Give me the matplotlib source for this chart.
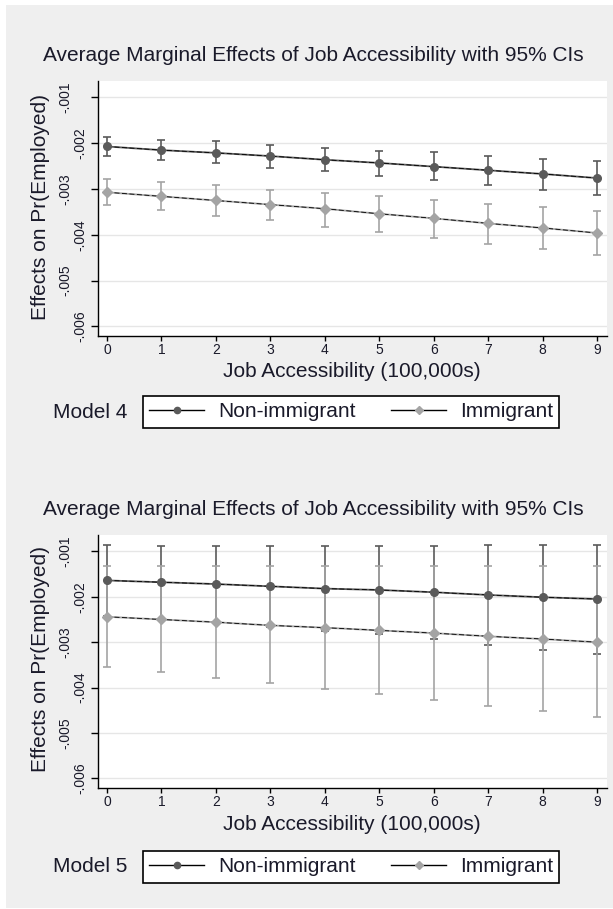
import matplotlib
matplotlib.use('Agg')
import matplotlib.pyplot as plt
from matplotlib.patches import Rectangle
from matplotlib.lines import Line2D

plt.rcParams['font.family'] = ['Liberation Sans', 'DejaVu Sans']

# ---------------- data ----------------
x_vals = [0, 1, 2, 3, 4, 5, 6, 7, 8, 9]
x_tick_labels = ['0', '1', '2', '3', '4', '5', '6', '7', '8', '9']
y_ticks = [-0.006, -0.005, -0.004, -0.003, -0.002, -0.001]
y_tick_labels = ['-.006', '-.005', '-.004', '-.003', '-.002', '-.001']
series_names = ['Non-immigrant', 'Immigrant']
model_names = ['Model 4', 'Model 5']
title_text = 'Average Marginal Effects of Job Accessibility with 95% CIs'
xlabel_text = 'Job Accessibility (100,000s)'
ylabel_text = 'Effects on Pr(Employed)'

# Model 4
nonimm4_mean = [-0.00207, -0.00215, -0.00221, -0.00228, -0.00236, -0.00243, -0.00251, -0.00259, -0.00267, -0.00276]
nonimm4_lo = [-0.00227, -0.00237, -0.00244, -0.00253, -0.00261, -0.00271, -0.00281, -0.00291, -0.00302, -0.00312]
nonimm4_hi = [-0.00187, -0.00193, -0.00196, -0.00203, -0.00210, -0.00217, -0.00220, -0.00227, -0.00234, -0.00239]
imm4_mean = [-0.00307, -0.00316, -0.00325, -0.00334, -0.00343, -0.00354, -0.00364, -0.00375, -0.00385, -0.00396]
imm4_lo = [-0.00335, -0.00346, -0.00358, -0.00368, -0.00382, -0.00393, -0.00407, -0.00420, -0.00430, -0.00443]
imm4_hi = [-0.00277, -0.00284, -0.00291, -0.00301, -0.00308, -0.00315, -0.00325, -0.00332, -0.00339, -0.00349]

# Model 5
nonimm5_mean = [-0.00164, -0.00168, -0.00172, -0.00177, -0.00182, -0.00185, -0.00190, -0.00196, -0.00201, -0.00205]
nonimm5_lo = [-0.00243, -0.00248, -0.00256, -0.00266, -0.00276, -0.00282, -0.00292, -0.00307, -0.00317, -0.00325]
nonimm5_hi = [-0.00085, -0.00088, -0.00088, -0.00088, -0.00088, -0.00088, -0.00088, -0.00085, -0.00085, -0.00085]
imm5_mean = [-0.00244, -0.00250, -0.00256, -0.00263, -0.00268, -0.00274, -0.00280, -0.00287, -0.00293, -0.00300]
imm5_lo = [-0.00355, -0.00366, -0.00379, -0.00390, -0.00404, -0.00414, -0.00428, -0.00441, -0.00452, -0.00465]
imm5_hi = [-0.00133, -0.00133, -0.00133, -0.00133, -0.00133, -0.00133, -0.00133, -0.00133, -0.00133, -0.00133]

panels = [
    dict(model=model_names[0], series=[(nonimm4_mean, nonimm4_lo, nonimm4_hi), (imm4_mean, imm4_lo, imm4_hi)],
         ax_top=81, ax_bot=336, title_y=61, xlabel_y=377, leg_top=396, model_y=413),
    dict(model=model_names[1], series=[(nonimm5_mean, nonimm5_lo, nonimm5_hi), (imm5_mean, imm5_lo, imm5_hi)],
         ax_top=535, ax_bot=788, title_y=515, xlabel_y=830, leg_top=851, model_y=867),
]

# ---------------- style ----------------
W, H = 613, 909
colors = ['#5a5a5a', '#a4a4a4']
markers = ['o', 'D']
msizes = [5.5, 5.0]
BIG = 15
SMALL = 10

fig = plt.figure(figsize=(W / 100, H / 100), dpi=100, facecolor='white')
fig.patches.append(Rectangle((6 / W, 1 / H), (W - 6) / W, 903 / H, transform=fig.transFigure,
                             facecolor='#efefef', edgecolor='none', zorder=-10))


def fx(px):
    return px / W


def fy(py):
    return 1 - py / H


AX_L, AX_R = 98, 607
for p in panels:
    ax = fig.add_axes([fx(AX_L), fy(p['ax_bot']), (AX_R - AX_L) / W, (p['ax_bot'] - p['ax_top']) / H])
    ax.set_zorder(1)
    ax.set_facecolor('white')
    ax.set_xlim(-0.165, 9.184)
    ax.set_ylim(-0.00621, -0.00064)
    for s in ['top', 'right']:
        ax.spines[s].set_visible(False)
    for s in ['left', 'bottom']:
        ax.spines[s].set_color('black')
        ax.spines[s].set_linewidth(1.0)
    ax.yaxis.grid(True, color='#e6e6e6', linewidth=1.0, zorder=0)
    ax.set_axisbelow(True)

    # error bars
    for i, (m, lo, hi) in enumerate(p['series']):
        yerr = [[mm - l for mm, l in zip(m, lo)], [h - mm for mm, h in zip(m, hi)]]
        ax.errorbar(x_vals, m, yerr=yerr, fmt='none', ecolor=colors[i], elinewidth=1.2,
                    capsize=3, capthick=1.2, zorder=2 + i)
    # connecting lines
    for i, (m, lo, hi) in enumerate(p['series']):
        ax.plot(x_vals, m, color=colors[i], lw=1.3, zorder=4, solid_capstyle='butt')
        ax.plot(x_vals, m, color='black', lw=0.6, dashes=(6, 3), zorder=4.5)
    # markers
    for i, (m, lo, hi) in enumerate(p['series']):
        ax.plot(x_vals, m, linestyle='none', marker=markers[i], ms=msizes[i],
                color=colors[i], mec=colors[i], zorder=5)

    ax.set_xticks(x_vals, labels=x_tick_labels, fontsize=SMALL)
    ax.tick_params(axis='x', length=3.6, width=1.0, pad=1.5, colors='black', labelcolor='#1a1a2a')
    ax.set_yticks(y_ticks, labels=y_tick_labels, fontsize=SMALL, rotation=90, va='center', ha='center')
    ax.tick_params(axis='y', length=5, width=1.0, colors='black', labelcolor='#1a1a2a')
    for k, t in enumerate(ax.yaxis.get_major_ticks()):
        t.set_pad(18.8 if k % 2 == 1 else 8.0)

    # texts
    fig.text(fx(313), fy(p['title_y']), title_text, fontsize=BIG, ha='center', va='baseline', color='#1a1a2a')
    fig.text(fx(352), fy(p['xlabel_y']), xlabel_text, fontsize=BIG, ha='center', va='baseline', color='#1a1a2a')
    fig.text(fx(41), fy((p['ax_top'] + p['ax_bot']) / 2 - 2), ylabel_text, fontsize=BIG, rotation=90,
             ha='center', va='center', color='#1a1a2a')
    fig.text(fx(53), fy(p['model_y']), p['model'], fontsize=BIG, ha='left', va='center', color='#1a1a2a')

    handles = [Line2D([], [], color='black', lw=1.0, marker=markers[i], ms=4.5 if i == 0 else 4.0,
                      markerfacecolor=colors[i], markeredgecolor=colors[i]) for i in range(2)]
    leg = fig.legend(handles, series_names, loc='upper left', bbox_to_anchor=(fx(143), fy(p['leg_top'])),
                     bbox_transform=fig.transFigure, ncol=2, fontsize=BIG, frameon=True, fancybox=False,
                     edgecolor='black', facecolor='white', framealpha=1, borderpad=0.3, borderaxespad=0,
                     handlelength=2.65, handletextpad=0.65, columnspacing=1.7, labelcolor='#1a1a2a')
    leg.get_frame().set_linewidth(1.2)

fig.savefig('out.png', dpi=100, facecolor=fig.get_facecolor())
